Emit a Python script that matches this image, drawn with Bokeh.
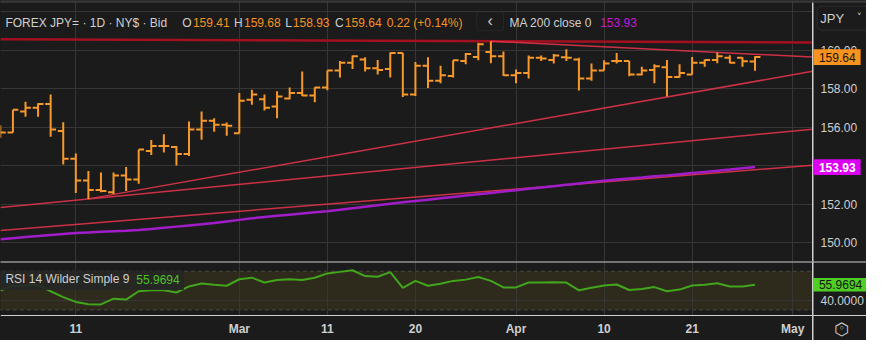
import pandas as pd
from bokeh.plotting import figure
from bokeh.models import (Range1d, FixedTicker, NumeralTickFormatter, Label,
                          BoxAnnotation, ColumnDataSource, LinearAxis)
from bokeh.layouts import column
from bokeh.embed import file_html
from bokeh.resources import INLINE

# ---------------- data ----------------
opens = [155.90, 155.72, 156.82, 157.01, 157.20, 155.80, 154.36, 153.24, 152.74, 152.63,
         153.49, 153.29, 154.76, 155.02, 154.97, 154.61, 155.88, 156.33, 156.13, 155.68,
         157.42, 157.45, 157.07, 157.49, 157.78, 157.65, 158.06, 158.94, 159.35, 159.52,
         159.06, 159.02, 159.85, 157.70, 159.19, 158.41, 158.66, 159.44, 159.64, 159.90,
         159.68, 158.69, 158.81, 159.60, 159.49, 159.63, 159.52, 158.53, 158.94, 159.44,
         159.44, 158.73, 158.97, 159.11, 158.61, 158.73, 159.35, 159.49, 159.60, 159.60,
         159.41]
highs = [156.10, 156.91, 157.32, 157.24, 157.70, 156.26, 154.64, 153.73, 153.65, 153.65,
         153.93, 154.84, 155.34, 155.63, 155.02, 156.30, 156.82, 156.46, 156.25, 157.78,
         157.95, 157.70, 157.87, 158.06, 158.89, 158.08, 158.94, 159.44, 159.72, 159.63,
         159.49, 159.88, 159.85, 159.39, 159.63, 159.19, 159.47, 159.85, 160.38, 160.46,
         159.93, 158.99, 159.72, 159.72, 159.80, 160.05, 159.60, 159.30, 159.47, 159.85,
         159.44, 159.14, 159.27, 159.49, 159.27, 159.65, 159.52, 159.88, 159.73, 159.63,
         159.68]
lows = [155.45, 155.72, 156.54, 156.54, 155.50, 154.06, 152.58, 152.28, 152.63, 152.53,
        152.69, 153.07, 154.56, 154.69, 154.01, 154.51, 155.35, 155.77, 155.55, 155.67,
        157.16, 156.87, 156.46, 157.45, 157.62, 157.29, 157.92, 158.58, 159.02, 158.89,
        158.73, 158.58, 157.57, 157.62, 158.03, 158.28, 158.58, 159.27, 159.47, 159.32,
        158.66, 158.28, 158.53, 159.44, 159.30, 159.44, 157.90, 158.41, 158.94, 159.30,
        158.64, 158.69, 158.28, 157.59, 158.58, 158.73, 159.14, 159.32, 159.32, 159.14,
        158.93]
closes = [155.72, 156.91, 157.01, 157.20, 155.88, 154.36, 153.24, 152.74, 152.69, 153.49,
          153.29, 154.84, 155.02, 155.02, 154.61, 155.88, 156.33, 156.13, 156.08, 157.37,
          157.70, 157.01, 157.59, 157.78, 157.65, 158.06, 158.94, 159.35, 159.68, 159.06,
          158.97, 159.85, 157.70, 159.19, 158.41, 158.69, 159.47, 159.80, 160.30, 159.68,
          158.69, 158.81, 159.60, 159.57, 159.72, 159.60, 158.53, 158.94, 159.30, 159.44,
          158.73, 158.94, 159.16, 158.61, 158.81, 159.35, 159.49, 159.68, 159.35, 159.42,
          159.64]
ma200 = [150.18, 150.24, 150.30, 150.35, 150.41, 150.46, 150.51, 150.54, 150.57, 150.60,
         150.63, 150.67, 150.72, 150.78, 150.84, 150.90, 150.96, 151.03, 151.11, 151.19,
         151.27, 151.34, 151.40, 151.46, 151.52, 151.58, 151.64, 151.71, 151.79, 151.87,
         151.95, 152.03, 152.10, 152.17, 152.24, 152.31, 152.38, 152.45, 152.52, 152.59,
         152.66, 152.73, 152.80, 152.87, 152.94, 153.01, 153.08, 153.15, 153.22, 153.28,
         153.34, 153.39, 153.45, 153.50, 153.56, 153.62, 153.68, 153.74, 153.80, 153.87,
         153.93]
rsi14 = [50.0, 55.0, 55.3, 56.0, 49.3, 43.3, 38.3, 36.0, 35.7, 41.7,
         40.7, 49.3, 50.3, 50.3, 48.0, 54.3, 57.3, 56.0, 55.0, 61.7,
         63.3, 58.3, 61.0, 61.7, 61.0, 63.3, 67.7, 69.3, 71.0, 65.0,
         64.3, 69.0, 52.7, 60.0, 55.0, 57.0, 60.0, 61.3, 64.0, 60.0,
         53.3, 53.3, 58.3, 58.3, 58.6, 58.3, 50.3, 53.0, 55.3, 56.3,
         50.6, 51.6, 53.6, 49.3, 51.0, 55.3, 56.0, 57.6, 54.3, 54.3,
         55.9694]
first_date = "2026-02-03"
tick_dates = ["2026-02-11", "2026-03-02", "2026-03-11", "2026-03-20",
              "2026-04-01", "2026-04-10", "2026-04-21", "2026-05-01"]
tick_labels = ["11", "Mar", "11", "20", "Apr", "10", "21", "May"]
price_ticks = [150, 152, 154, 156, 158, 160, 162]
rsi_ticks = [40]
rsi_bands = [30, 70]
# trendlines: (bar index, price) end points
trend_x0 = [0, 39, 7, 0, 0]
trend_y0 = [160.57, 160.46, 152.28, 151.83, 150.64]
trend_x1 = [64.57, 64.57, 64.57, 64.57, 64.57]
trend_y1 = [160.40, 159.64, 158.90, 155.90, 154.03]

# ---------------- styling ----------------
BG = "#1b1b1b"
FONT = "Liberation Sans"
LIGHT = "#cfcfcf"
GRID = "#363636"
ORANGE = "#f7992b"
ORANGE_T = "#f39323"
RED = "#e0334b"
DARKRED = "#a3101f"
PURPLE = "#a11dc9"
MAGENTA_T = "#c418d8"
MAGENTA_BOX = "#dc00f2"
GREEN = "#42a61d"
GREEN_T = "#4dc422"
GREEN_BOX = "#4fcf24"
BAND = "#2e2a1c"
SEP = "#d0d0d0"

n = len(closes)
cal = pd.bdate_range(first_date, "2026-05-29")
tick_idx = [int(cal.get_loc(pd.Timestamp(d))) for d in tick_dates]

W = 866
X0, X1 = 0.0125, 64.57          # bar-index window of the price area
PXB = 812 / (X1 - X0)           # pixels per bar
XE = X0 + W / PXB               # right end of the whole canvas (axis area included)
P0, P1 = 149.03, 162.576        # price window
PPX = (P1 - P0) / 261           # price units per pixel
R1 = 80.0                       # RSI at the top of the indicator panel
RPX = (80.0 - 24.3) / 54        # RSI units per pixel
R0 = R1 - 54 * RPX              # bottom of the RSI plotting band
RB = R1 - 79 * RPX              # bottom of the canvas (date labels included)


def gx(px):   # reference pixel column -> bar index coordinate
    return X0 + px / 12.81


def gy(py):   # reference pixel row -> price coordinate
    return 158 - (py - 92.3) / 20.17


def ry(py):   # reference pixel row -> RSI coordinate
    return R1 - (py - 273.3) * RPX


idx = list(range(n))
src = ColumnDataSource(dict(i=idx, o=opens, h=highs, l=lows, c=closes,
                            il=[k - 0.43 for k in idx], ir=[k + 0.43 for k in idx],
                            ma=ma200, rsi=rsi14))
tsrc = ColumnDataSource(dict(x0=trend_x0[1:], y0=trend_y0[1:], x1=trend_x1[1:], y1=trend_y1[1:]))
top_src = ColumnDataSource(dict(x0=trend_x0[:1], y0=trend_y0[:1], x1=trend_x1[:1], y1=trend_y1[:1]))


def style_axis(ax, fmt=None, bold=False, line=None):
    ax.major_tick_line_color = None
    ax.minor_tick_line_color = None
    ax.major_tick_out = 0
    ax.major_tick_in = 0
    ax.axis_line_color = line
    ax.major_label_text_color = LIGHT
    ax.major_label_text_font = FONT
    ax.major_label_text_font_size = "12px"
    if bold:
        ax.major_label_text_font_style = "bold"
    if fmt:
        ax.formatter = NumeralTickFormatter(format=fmt)


def box(fig, left, right, top, bottom, fill, alpha=1.0, line=None, radius=0, level="annotation"):
    fig.add_layout(BoxAnnotation(left=left, right=right, top=top, bottom=bottom,
                                 fill_color=fill, fill_alpha=alpha, line_color=line,
                                 line_width=1, border_radius=radius, level=level))


def lab(fig, x, y, text, color=LIGHT, size="12px", align="left", font=FONT, style="normal"):
    fig.add_layout(Label(x=x, y=y, text=text, text_color=color, text_font_size=size,
                         text_font=font, text_align=align, text_baseline="middle",
                         text_font_style=style))


xr = Range1d(X0, XE)

# ---------------- main price panel ----------------
p = figure(frame_width=W, frame_height=261, x_range=xr, y_range=Range1d(P0, P1),
           output_backend="svg", toolbar_location=None, y_axis_location=None,
           x_axis_location=None, min_border=0,
           background_fill_color=BG, border_fill_color=BG, outline_line_color=None)
pax = LinearAxis(fixed_location=X1, ticker=FixedTicker(ticks=price_ticks))
style_axis(pax, "0.00", line=SEP)
pax.major_label_standoff = 8
p.add_layout(pax, "right")
p.xgrid.ticker = FixedTicker(ticks=tick_idx)
p.ygrid.ticker = FixedTicker(ticks=price_ticks)
p.grid.grid_line_color = GRID
box(p, X1, XE + 1, P1 + 1, P0 - 1, BG, level="underlay")   # keep grid out of the axis area

p.segment(x0="x0", y0="y0", x1="x1", y1="y1", source=top_src, line_color=DARKRED, line_width=2.5)
p.segment(x0="x0", y0="y0", x1="x1", y1="y1", source=tsrc, line_color=RED, line_width=1.5, line_alpha=0.9)
p.line("i", "ma", source=src, line_color=PURPLE, line_width=2.5)
p.segment(x0="i", y0="l", x1="i", y1="h", source=src, line_color=ORANGE, line_width=2)
p.segment(x0="il", y0="o", x1="i", y1="o", source=src, line_color=ORANGE, line_width=2)
p.segment(x0="i", y0="c", x1="ir", y1="c", source=src, line_color=ORANGE, line_width=2)

box(p, X0 - 1, XE + 1, P1 + 1, gy(2.3), "#3a3a3a")          # top border
box(p, X1, X1 + 1 / PXB, gy(2.3), P0 - 1, SEP)               # price / axis separator

hy = gy(23.3)
prev = closes[-2]
chg = closes[-1] - prev
lab(p, gx(5), hy, "FOREX JPY= · 1D · NY$ · Bid")
for lx, key, vx, val in [(185, "O", 196, opens[-1]), (237.7, "H", 248, highs[-1]),
                         (290, "L", 297.7, lows[-1]), (340.7, "C", 350.7, closes[-1])]:
    lab(p, gx(lx), hy, key)
    lab(p, gx(vx), hy, f"{val:.2f}", ORANGE_T)
lab(p, gx(393.3), hy, f"{chg:.2f} ({chg / prev * 100:+.2f}%)", ORANGE_T)

box(p, gx(485), gx(512.3), gy(11.7), gy(31.7), BG, line="#4a4a4a", radius=3)
lab(p, gx(498.7), gy(21.0), "‹", LIGHT, "16px", "center")
lab(p, gx(518.3), hy, "MA 200 close 0")
lab(p, gx(610.7), hy, f"{ma200[-1]:.2f}", MAGENTA_T)

# currency dropdown
box(p, gx(831.7), XE + 1, gy(6), gy(31), BG, line="#5a5a5a", radius=4)
lab(p, gx(835), gy(18.5), "JPY", LIGHT, "13px")
lab(p, gx(872), gy(17.5), "˅", LIGHT, "10px", "left", "DejaVu Sans")

# last price / MA value boxes on the axis
half = 8.3 / 20.17
for val, fill, tcol, st in [(closes[-1], "#f7931e", "#151515", "normal"),
                            (ma200[-1], MAGENTA_BOX, "#ffffff", "bold")]:
    box(p, X1 + 1 / PXB, gx(876), val + half, val - half, fill)
    lab(p, gx(833.5), val, f"{val:.2f}", tcol, "12px", "left", FONT, st)

# ---------------- RSI panel ----------------
r = figure(frame_width=W, frame_height=79, x_range=xr, y_range=Range1d(RB, R1),
           output_backend="svg", toolbar_location=None, y_axis_location=None,
           x_axis_location=None, min_border=0,
           background_fill_color=BG, border_fill_color=BG, outline_line_color=None)
xax = LinearAxis(fixed_location=R0, ticker=FixedTicker(ticks=tick_idx),
                 major_label_overrides={t: s for t, s in zip(tick_idx, tick_labels)})
style_axis(xax, bold=True, line=SEP)
xax.major_label_standoff = 6
r.add_layout(xax, "below")
rax = LinearAxis(fixed_location=X1, ticker=FixedTicker(ticks=rsi_ticks))
style_axis(rax, "0.0000", line=SEP)
rax.major_label_standoff = 8
r.add_layout(rax, "right")
r.xgrid.ticker = FixedTicker(ticks=tick_idx)
r.ygrid.ticker = FixedTicker(ticks=rsi_ticks)
r.grid.grid_line_color = GRID

# overbought / oversold band with dashed borders
r.add_layout(BoxAnnotation(bottom=rsi_bands[0], top=rsi_bands[1], left=X0 - 1, right=X1,
                           fill_color=BAND, fill_alpha=1, line_color="#a0a0a0",
                           line_dash="4 3", line_width=1, level="image"))
box(r, X1, XE + 1, R1 + 1, RB - 1, BG, level="underlay")   # axis area
box(r, X0 - 1, XE + 1, R0, RB - 1, BG, level="underlay")   # date label area

r.line("i", "rsi", source=src, line_color=GREEN, line_width=2)

box(r, X0 - 1, gx(186.7), ry(282.3), ry(301.7), "#262626", 0.9)
lab(r, gx(5), ry(291), "RSI 14 Wilder Simple 9")
lab(r, gx(138.3), ry(291), f"{rsi14[-1]:.4f}", GREEN_T)

box(r, X1 + 1 / PXB, XE + 1, rsi14[-1] + 7, rsi14[-1] - 7, GREEN_BOX)
lab(r, gx(833.5), rsi14[-1], f"{rsi14[-1]:.4f}", "#151515", "12px")

# separators
box(r, X0 - 1, XE + 1, R1 + 1, R1 - RPX, SEP)
box(r, X1, X1 + 1 / PXB, R1 + 1, RB - 1, SEP)

# settings icon
lab(r, gx(856.7), R0 - 13 * RPX, "⬡", LIGHT, "17px", "center", "DejaVu Sans")
lab(r, gx(856.7), R0 - 13 * RPX, "◦", LIGHT, "11px", "center", "DejaVu Sans")

layout = column(p, r, spacing=0, styles={"background-color": BG})
open("out.html", "w").write(file_html(layout, INLINE))
